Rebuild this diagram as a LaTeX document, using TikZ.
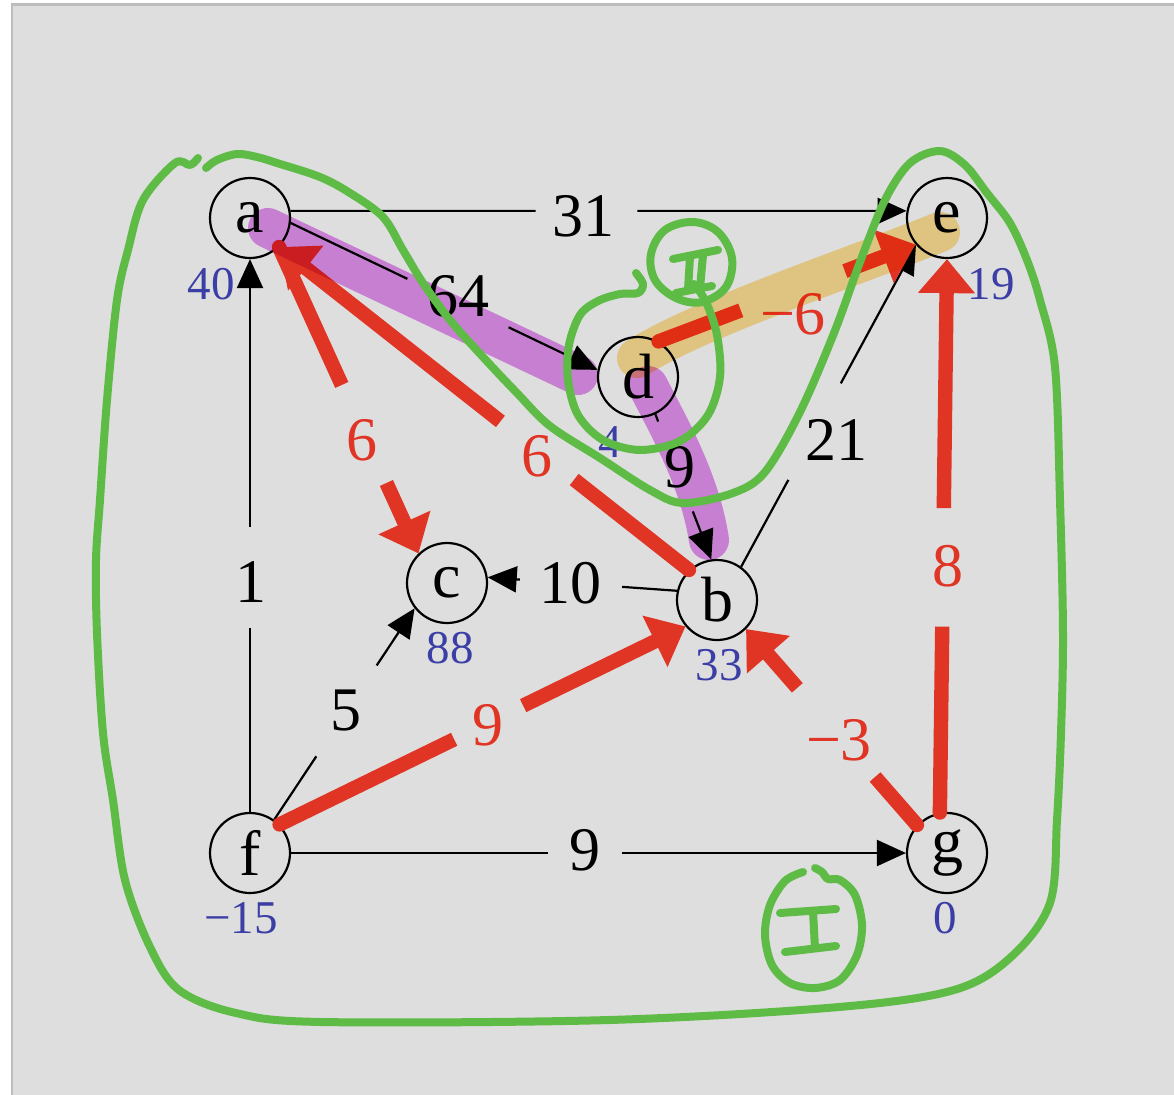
\documentclass[tikz,border=0pt]{standalone}
\usepackage{fontspec}
\setmainfont{Liberation Serif}
\usetikzlibrary{arrows.meta,calc}
\definecolor{bgc}{HTML}{DEDEDE}
\definecolor{framec}{HTML}{BDBDBD}
\definecolor{redc}{RGB}{224,52,36}
\definecolor{bluec}{RGB}{58,62,165}
\definecolor{greenc}{RGB}{93,187,70}
\definecolor{purplehl}{RGB}{229,146,241}
\definecolor{orangehl}{RGB}{255,226,148}
\newcommand\gapedge[4]{%
  \draw[edgeline] (#1) -- ($(#1)!#3!(#2)$);
  \draw[edgeline,-{Triangle[length=14.5pt,width=13pt]}] ($(#1)!#4!(#2)$) -- (#2);}
\newcommand\redgapedge[4]{%
  \fill[redc] (#1) circle (7.2);
  \draw[redline] (#1) -- ($(#1)!#3!(#2)$);
  \draw[redline,-{Triangle[length=17pt,width=27.5pt]}] ($(#1)!#4!(#2)$) -- (#2);}
\begin{document}
\begin{tikzpicture}[x=0.5pt,y=-0.5pt,
  vtx/.style={circle,draw,line width=1.1pt,minimum size=40pt,inner sep=0pt,font=\fontsize{32pt}{32pt}\selectfont},
  edgeline/.style={line width=1.1pt},
  redline/.style={draw=redc,line width=7.2pt},
  wlab/.style={font=\fontsize{31pt}{31pt}\selectfont,inner sep=0pt},
  rlab/.style={wlab,text=redc},
  blab/.style={font=\fontsize{23.5pt}{23.5pt}\selectfont,text=bluec,inner sep=0pt},
  hl/.style={line width=20pt,line cap=round,line join=round},
  grn/.style={draw=greenc,line width=4pt,line cap=round,line join=round}]
\useasboundingbox (0,0) rectangle (1174,1094);
\fill[white] (0,0) rectangle (1174,1094);
\begin{scope}
\clip (0,0) rectangle (1174,1094);
\filldraw[fill=bgc,draw=framec,line width=1.2pt] (12,4.5) rectangle (1190,1110);
\end{scope}

% vertices
\node[vtx] (a) at (250,218) {a};
\node[vtx] (e) at (947,218) {e};
\node[vtx] (d) at (638,377) {d};
\node[vtx] (c) at (447,583) {c};
\node[vtx] (b) at (717,600) {b};
\node[vtx] (f) at (250,853) {f};
\node[vtx] (g) at (947,853) {g};

% vertex values
\node[blab] (va) at (211,284) {40};
\node[blab] (ve) at (991,284) {19};
\node[blab] (vd) at (610,442) {4};
\node[blab] (vc) at (450,648) {88};
\node[blab] (vb) at (719,665) {33};
\node[blab] (vf) at (241,918) {−15};
\node[blab] (vg) at (945,918) {0};

% black edges
\gapedge{a.10}{e.170}{0.398}{0.563}
\node[wlab] (l31) at (583,216) {31};
\gapedge{a.-7}{d.170}{0.38}{0.71}
\node[wlab] (l64) at (458,296) {64};
\gapedge{f.north}{a.south}{0.333}{0.515}
\node[wlab] (l1) at (251,582) {1};
\gapedge{d.-65}{b.98}{0.05}{0.67}
\node[wlab] (l9a) at (680,467) {9};
\gapedge{b.54}{e.221}{0.27}{0.57}
\node[wlab] (l21) at (836,440) {21};
\gapedge{b.167}{c.8}{0.29}{0.83}
\node[wlab] (l10) at (570,583) {10};
\gapedge{f.54}{c.218}{0.30}{0.73}
\node[wlab] (l5) at (346,710) {5};
\gapedge{f.east}{g.west}{0.418}{0.538}
\node[wlab] (l9b) at (585,850) {9};

% red edges
\redgapedge{a.-45}{c.134}{0.45}{0.77}
\node[rlab] (r6a) at (362,440) {6};
\redgapedge{b.133}{a.-45}{0.28}{0.46}
\node[rlab] (r6b) at (537,456) {6};
\redgapedge{f.44}{b.220}{0.43}{0.60}
\node[rlab] (r9) at (488,725) {9};
\redgapedge{g.137}{b.-45}{0.245}{0.70}
\node[rlab] (rm3) at (839,740) {−3};
\redgapedge{g.100}{e.south}{0.336}{0.55}
\node[rlab] (r8) at (948,566) {8};
\redgapedge{d.60}{e.220}{0.32}{0.725}
\node[rlab] (rm6) at (793,314) {−6};

% highlighter strokes
\begin{scope}[blend mode=multiply]
\draw[hl,purplehl] (268,228) -- (578,375);
\draw[hl,purplehl] (648,386) .. controls (668,425) and (700,480) .. (709,540);
\draw[hl,orangehl] (637,358) .. controls (700,318) and (850,268) .. (940,232);
\end{scope}

% green annotations
\draw[grn] plot[smooth,tension=0.55] coordinates {
 (198,158) (190,165) (175,163) (143,200) (128,250) (117,300) (107,400) (100,500)
 (96,560) (97,633) (103,733) (113,800) (125,880) (150,947) (179,990) (236,1013)
 (322,1022) (609,1020) (839,1007) (954,990) (1011,957) (1050,903) (1057,820)
 (1061,733) (1063,633) (1060,500) (1055,367) (1040,300) (1027,260) (1010,223)
 (987,193) (965,165) (940,151) (910,163) (885,200) (860,262) (834,333) (800,412)
 (765,472) (733,493) (683,503) (650,490) (600,458) (550,426) (517,393) (483,357)
 (450,320) (423,283) (403,250) (383,217) (350,193) (320,177) (277,163) (257,157)
 (237,154) (217,160) (206,168)};
\draw[grn] plot[smooth,tension=0.55] coordinates {
 (636,273) (643,284) (638,293) (620,294) (598,301) (580,315) (569,345) (568,380)
 (578,415) (603,440) (640,450) (680,441) (708,415) (720,377) (717,335) (706,302) (694,284)};
% circled II
\draw[grn] plot[smooth cycle,tension=0.6] coordinates {
 (693,222) (718,232) (732,258) (726,287) (702,302) (676,298) (655,280) (651,254) (665,230)};
\draw[grn] (673,259) -- (718,250);
\draw[grn] (690,257) -- (688,290);
\draw[grn] (703,255) -- (700,288);
\draw[grn] (676,293) -- (712,286);
% circled I
\draw[grn] plot[smooth,tension=0.55] coordinates {
 (803,872) (785,881) (770,905) (765,935) (772,965) (790,983) (815,988) (840,980)
 (857,955) (862,925) (855,895) (840,880) (828,879) (822,872) (815,868)};
\draw[grn] (780,913) -- (836,909);
\draw[grn] (813,911) -- (815,948);
\draw[grn] (785,952) -- (836,946);
\end{tikzpicture}
\end{document}
